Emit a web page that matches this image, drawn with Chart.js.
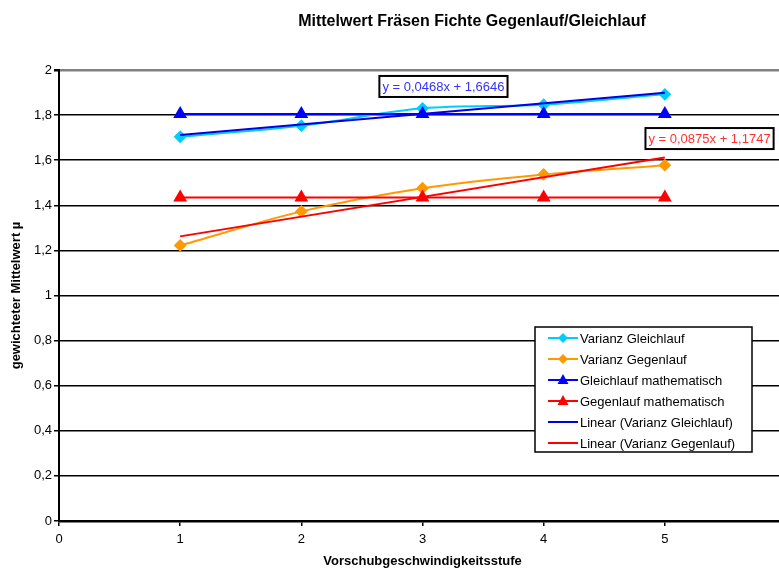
<!DOCTYPE html>
<html>
<head>
<meta charset="utf-8">
<script src="https://cdn.jsdelivr.net/npm/chart.js@4/dist/chart.umd.min.js"></script>
<style>
  html, body { margin: 0; padding: 0; background: #fff; overflow: hidden; }
  #wrap { width: 800px; height: 570px; }
</style>
</head>
<body>
<div id="wrap"><canvas id="c" width="800" height="570"></canvas></div>
<script>
// Feed-rate steps (x) and measured / calculated mean values (y)
const stufen = [1, 2, 3, 4, 5];
const varianzGleichlauf = [1.704, 1.753, 1.830, 1.846, 1.892];
const varianzGegenlauf = [1.222, 1.373, 1.476, 1.537, 1.578];
const gleichlaufMathematisch = [1.805, 1.805, 1.805, 1.805, 1.805];
const gegenlaufMathematisch = [1.435, 1.435, 1.435, 1.435, 1.435];

// Linear trend lines: y = slope * x + intercept
const trendSlope = [0.0468, 0.0875];
const trendIntercept = [1.6646, 1.1747];

const seriesNames = [
  'Varianz Gleichlauf',
  'Varianz Gegenlauf',
  'Gleichlauf mathematisch',
  'Gegenlauf mathematisch',
  'Linear (Varianz Gleichlauf)',
  'Linear (Varianz Gegenlauf)'
];
const titleText = 'Mittelwert Fräsen Fichte Gegenlauf/Gleichlauf';
const xTitle = 'Vorschubgeschwindigkeitsstufe';
const yTitle = 'gewichteter Mittelwert µ';

const FONT = "'Liberation Sans', Arial, sans-serif";
const C_CYAN = '#00CCFF', C_ORANGE = '#FF9900', C_BLUE = '#0000FF', C_RED = '#FF0000';

const pts = (ys) => stufen.map((x, i) => ({ x: x, y: ys[i] }));
const trendPts = (k) => {
  const x0 = stufen[0], x1 = stufen[stufen.length - 1];
  return [
    { x: x0, y: trendSlope[k] * x0 + trendIntercept[k] },
    { x: x1, y: trendSlope[k] * x1 + trendIntercept[k] }
  ];
};
const fmt = (v) => String(v).replace('.', ',');

Chart.defaults.font.family = FONT;
Chart.defaults.font.size = 13;
Chart.defaults.color = '#000';

// Title, legend box and trend equation boxes
const decor = {
  id: 'decor',
  afterDraw(chart) {
    const ctx = chart.ctx;
    const xs = chart.scales.x, ys = chart.scales.y;
    ctx.save();

    // chart title
    ctx.font = 'bold 16px ' + FONT;
    ctx.fillStyle = '#000';
    ctx.textAlign = 'center';
    ctx.textBaseline = 'middle';
    ctx.fillText(titleText, 472, 22);

    // trend equations
    const eqs = [
      { k: 0, x: 3.173, y: 1.927, color: '#3333FF' },
      { k: 1, x: 5.369, y: 1.696, color: '#FF3333' }
    ];
    ctx.font = '13px ' + FONT;
    eqs.forEach(e => {
      const txt = 'y = ' + fmt(trendSlope[e.k].toFixed(4)) + 'x + ' + fmt(trendIntercept[e.k].toFixed(4));
      const cx = xs.getPixelForValue(e.x), cy = ys.getPixelForValue(e.y);
      const w = ctx.measureText(txt).width + 6, h = 21;
      ctx.fillStyle = '#fff';
      ctx.fillRect(cx - w / 2, cy - h / 2, w, h);
      ctx.lineWidth = 2;
      ctx.strokeStyle = '#000';
      ctx.strokeRect(cx - w / 2, cy - h / 2, w, h);
      ctx.fillStyle = e.color;
      ctx.fillText(txt, cx, cy + 1);
    });

    // legend
    const lx = 535, ly = 327, lw = 217, lh = 125, row = 21;
    ctx.fillStyle = '#fff';
    ctx.fillRect(lx, ly, lw, lh);
    ctx.lineWidth = 1.5;
    ctx.strokeStyle = '#000';
    ctx.strokeRect(lx, ly, lw, lh);
    ctx.textAlign = 'left';
    chart.data.datasets.forEach((ds, i) => {
      const y = ly + 11 + i * row;
      ctx.strokeStyle = ds.borderColor;
      ctx.lineWidth = 2;
      ctx.beginPath();
      ctx.moveTo(lx + 13, y);
      ctx.lineTo(lx + 43, y);
      ctx.stroke();
      const mx = lx + 28;
      ctx.fillStyle = ds.pointBackgroundColor || ds.borderColor;
      if (ds.pointStyle === 'rectRot' && ds.pointRadius > 0) {
        ctx.beginPath();
        ctx.moveTo(mx, y - 5); ctx.lineTo(mx + 5, y); ctx.lineTo(mx, y + 5); ctx.lineTo(mx - 5, y);
        ctx.closePath(); ctx.fill();
      } else if (ds.pointStyle === 'triangle' && ds.pointRadius > 0) {
        ctx.beginPath();
        ctx.moveTo(mx, y - 6); ctx.lineTo(mx + 5.5, y + 4); ctx.lineTo(mx - 5.5, y + 4);
        ctx.closePath(); ctx.fill();
      }
      ctx.fillStyle = '#000';
      ctx.fillText(seriesNames[i], lx + 45, y + 1);
    });
    ctx.restore();
  }
};

new Chart(document.getElementById('c'), {
  type: 'line',
  data: {
    datasets: [
      { label: seriesNames[0], data: pts(varianzGleichlauf), borderColor: C_CYAN, pointBackgroundColor: C_CYAN,
        pointBorderColor: C_CYAN, pointStyle: 'rectRot', pointRadius: 5, borderWidth: 2, tension: 0.3, order: 2 },
      { label: seriesNames[1], data: pts(varianzGegenlauf), borderColor: C_ORANGE, pointBackgroundColor: C_ORANGE,
        pointBorderColor: C_ORANGE, pointStyle: 'rectRot', pointRadius: 5, borderWidth: 2, tension: 0.3, order: 2 },
      { label: seriesNames[2], data: pts(gleichlaufMathematisch), borderColor: C_BLUE, pointBackgroundColor: C_BLUE,
        pointBorderColor: C_BLUE, pointStyle: 'triangle', pointRadius: 6, borderWidth: 2, tension: 0, order: 0 },
      { label: seriesNames[3], data: pts(gegenlaufMathematisch), borderColor: C_RED, pointBackgroundColor: C_RED,
        pointBorderColor: C_RED, pointStyle: 'triangle', pointRadius: 6, borderWidth: 2, tension: 0, order: 0 },
      { label: seriesNames[4], data: trendPts(0), borderColor: '#0000E0', pointRadius: 0, borderWidth: 2, tension: 0, order: 1 },
      { label: seriesNames[5], data: trendPts(1), borderColor: C_RED, pointRadius: 0, borderWidth: 2, tension: 0, order: 1 }
    ]
  },
  options: {
    responsive: false,
    animation: false,
    devicePixelRatio: 1,
    layout: { padding: { top: 70, right: 14, left: 0, bottom: 0 } },
    plugins: { legend: { display: false }, title: { display: false }, tooltip: { enabled: false } },
    scales: {
      x: {
        type: 'linear', min: 0, max: 6,
        afterFit: (s) => { s.height = 49; },
        ticks: { stepSize: 1, padding: 6, callback: (v) => (v <= 5 ? String(v) : '') },
        grid: { drawOnChartArea: false, drawTicks: true, tickLength: 5, color: '#000', lineWidth: 1.5 },
        border: { color: '#000', width: 2.5 },
        title: { display: true, text: xTitle, font: { weight: 'bold', size: 13 }, padding: { top: 0, bottom: 1 } }
      },
      y: {
        min: 0, max: 2,
        afterFit: (s) => { s.width = 59; },
        ticks: { stepSize: 0.2, padding: 2, callback: (v) => fmt(Math.round(v * 10) / 10) },
        grid: {
          color: (c) => (c.tick && c.tick.value === 2 ? '#808080' : '#000'),
          lineWidth: (c) => (c.tick && c.tick.value === 2 ? 2.5 : 1.5),
          tickColor: '#000', tickLength: 5
        },
        border: { color: '#000', width: 2 },
        title: { display: true, text: yTitle, font: { weight: 'bold', size: 13 }, padding: { top: 9, bottom: 0 } }
      }
    }
  },
  plugins: [decor]
});
</script>
</body>
</html>
